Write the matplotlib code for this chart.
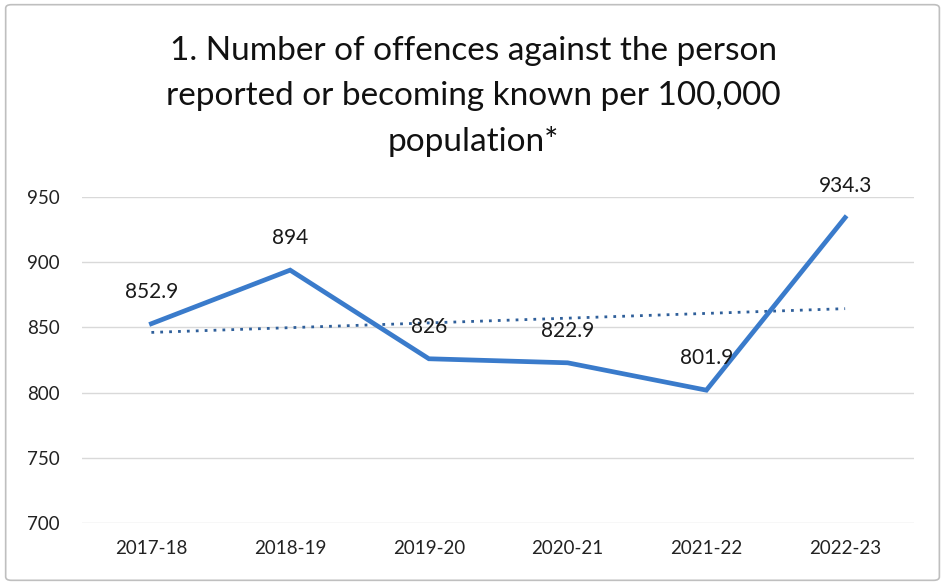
"""
Offences against the person per 100,000 population, with linear trendline.
"""

import numpy as np
import matplotlib.pyplot as plt
from matplotlib.patches import FancyBboxPatch

# ─────────────────────────────────────────────────────────
#  Datos
# ─────────────────────────────────────────────────────────
years = ["2017-18", "2018-19", "2019-20", "2020-21", "2021-22", "2022-23"]
rates = [852.9, 894, 826, 822.9, 801.9, 934.3]
rate_labels = ["852.9", "894", "826", "822.9", "801.9", "934.3"]
y_ticks = [700, 750, 800, 850, 900, 950]

TITLE = ("1. Number of offences against the person\n"
         "reported or becoming known per 100,000\n"
         "population*")

LINE_COLOR = "#3a7bcb"
TREND_COLOR = "#2f5f9a"

plt.rcParams["font.family"] = ["Lato", "DejaVu Sans"]

fig = plt.figure(figsize=(9.46, 5.85), dpi=100)
ax = fig.add_axes([0.0867, 0.106, 0.880, 0.557])

x = np.arange(len(years))

# tendencia lineal (mínimos cuadrados) sobre la serie
slope, intercept = np.polyfit(x, rates, 1)
ax.plot(x, slope * x + intercept, linestyle=(0, (1, 2.2)), color=TREND_COLOR,
        linewidth=2.0, zorder=2)

ax.plot(x, rates, color=LINE_COLOR, linewidth=3.4, solid_joinstyle="miter",
        zorder=3)

for xi, yi, lab in zip(x, rates, rate_labels):
    ax.annotate(lab, (xi, yi), xytext=(0, 23), textcoords="offset points",
                ha="center", va="center", fontsize=15, color="#1a1a1a",
                zorder=4)

ax.set_xlim(-0.5, len(years) - 0.5)
ax.set_ylim(700, 950)
ax.set_yticks(y_ticks)
ax.set_xticks(x)
ax.set_xticklabels(years)
ax.tick_params(axis="both", length=0, labelsize=13.5, colors="#222222")
ax.tick_params(axis="y", pad=16)
ax.tick_params(axis="x", pad=12)
ax.grid(axis="y", color="#d9d9d9", linewidth=1.0)
ax.set_axisbelow(True)
for side in ax.spines.values():
    side.set_visible(False)

fig.text(0.5, 0.835, TITLE, ha="center", va="center", fontsize=24,
         linespacing=1.6, color="#111111")

# marco del gráfico
frame = FancyBboxPatch((0.006, 0.008), 0.987, 0.984,
                       boxstyle="round,pad=0,rounding_size=0.006",
                       transform=fig.transFigure, facecolor="none",
                       edgecolor="#bfbfbf", linewidth=1.2)
fig.patches.append(frame)

plt.savefig("out.png", dpi=100)
